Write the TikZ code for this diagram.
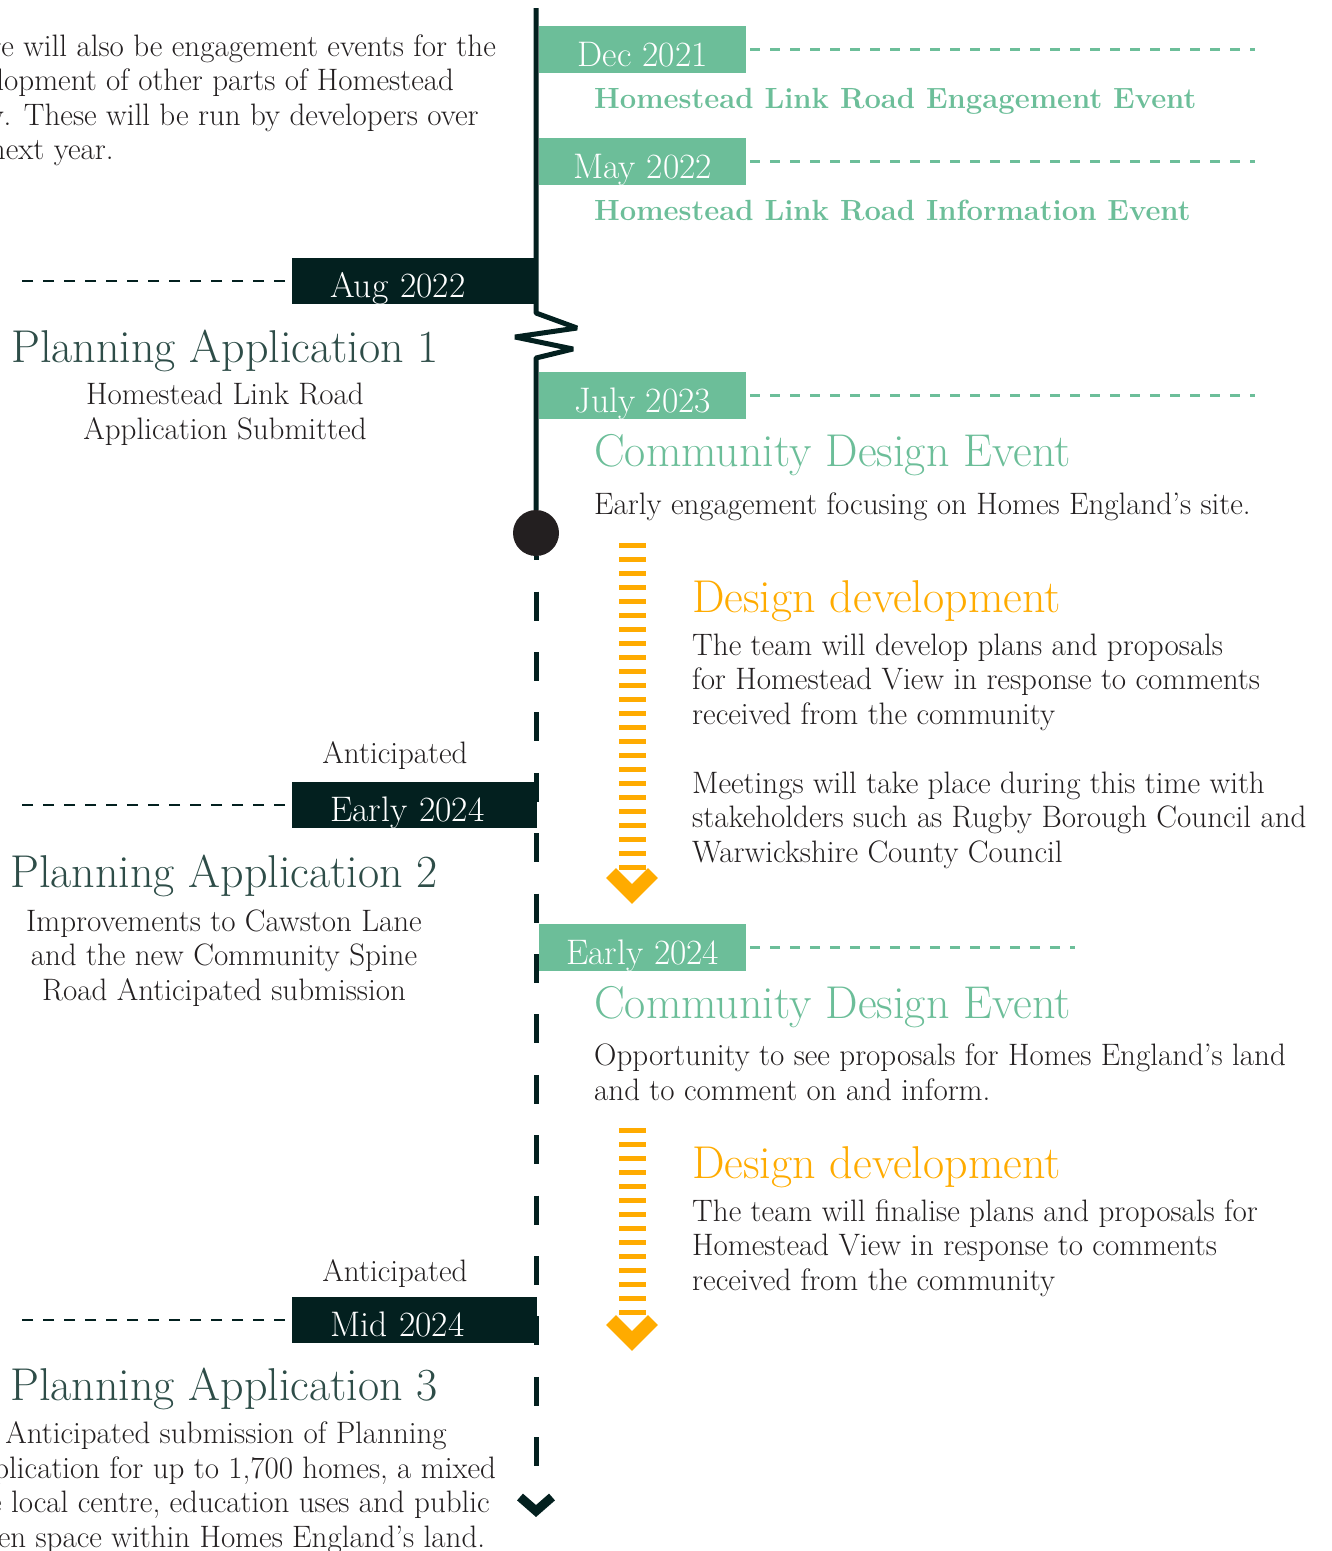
\documentclass[tikz,border=0pt]{standalone}
\usepackage{fontspec}
\usetikzlibrary{positioning}
\definecolor{pine}{HTML}{03201F}
\definecolor{mint}{HTML}{6CBE99}
\definecolor{amber}{HTML}{FFAB00}
\definecolor{slate}{HTML}{2E4D48}
\definecolor{ink}{HTML}{231F20}
\newcommand\datefont{\fontsize{35.5}{40}\selectfont}
\newcommand\bodyfont{\fontsize{31}{34.5}\selectfont}
\newcommand\headfont{\fontsize{46}{52}\selectfont}
\newcommand\leadfont{\bfseries\fontsize{29.2}{34}\selectfont}
\tikzstyle{spine}=[pine, line width=5, line join=bevel]
\tikzstyle{hub}=[circle, fill=ink, minimum size=46, inner sep=0]
\tikzstyle{mintdate}=[fill=mint, text=white, font=\datefont, minimum width=207, minimum height=47, inner sep=0, text height=33, text depth=0, anchor=north west]
\tikzstyle{pinedate}=[fill=pine, text=white, font=\datefont, inner xsep=38, inner ysep=0, text width=169, align=left, minimum height=46, text height=33, text depth=0, anchor=north west]
\tikzstyle{mintdash}=[mint, line width=2.5, dash pattern=on 10 off 10, shorten <=4]
\tikzstyle{pinedash}=[pine, line width=2.5, dash pattern=on 11 off 10, shorten <=7]
\tikzstyle{ladder}=[amber, line width=27, dash pattern=on 5 off 9]
\tikzstyle{chevron}=[amber, line width=14, miter limit=10]
\tikzstyle{body}=[ink, font=\bodyfont, inner sep=0, align=left, anchor=base west]
\tikzstyle{note}=[ink, font=\bodyfont, inner sep=0, align=center, anchor=base]
\tikzstyle{plan}=[slate, font=\headfont, inner sep=0, anchor=base]
\tikzstyle{lead}=[mint, font=\leadfont, inner sep=0, anchor=base west]
\tikzstyle{mhead}=[mint, font=\headfont, inner sep=0, anchor=base west]
\tikzstyle{yhead}=[amber, font=\headfont, inner sep=0, anchor=base west]

\begin{document}
\begin{tikzpicture}[x=1pt, y=-1pt]
  \useasboundingbox (0,0) rectangle (1332,1551);
  \coordinate (edgeL) at (20,0);
  \coordinate (edgeR) at (1255,0);
  \coordinate (edgeM) at (1075,0);

  % timeline
  \node[hub] (hub) at (536,533) {};
  \coordinate (top) at (536,8);
  \coordinate (tail) at (536,1467);
  \draw[spine] (top) -- (536,313) -- ++(41,15) -- ++(-62,9) -- ++(58,12) -- ++(-37,9) -- (hub.north);
  \draw[spine, dash pattern=on 29 off 31.4, dash phase=25] (hub.south) -- (tail);
  \draw[pine, line width=9, miter limit=10] (520,1497) -- (536,1511) -- (552,1497);

  % left column (multi-line nodes sit on their last baseline)
  \node[body] (intro) at (-59,159.5) {There will also be engagement events for the\\development of other parts of Homestead\\View. These will be run by developers over\\the next year.};

  \node[pinedate] (aug) at (292,258) {Aug 2022};
  \draw[pinedash] (aug.west) -- (aug.west -| edgeL);
  \node[plan] (pa1) at (225,362) {Planning Application 1};
  \node[note] (pa1note) at (225,439) {Homestead Link Road\\Application Submitted};

  \node[note] (ant1) at (395,763) {Anticipated};
  \node[pinedate] (early) at (292,782) {Early 2024};
  \draw[pinedash] (early.west) -- (early.west -| edgeL);
  \node[plan] (pa2) at (224,887) {Planning Application 2};
  \node[note] (pa2note) at (224,1000) {Improvements to Cawston Lane\\and the new Community Spine\\Road Anticipated submission};

  \node[note] (ant2) at (395,1281) {Anticipated};
  \node[pinedate] (mid) at (292,1297) {Mid 2024};
  \draw[pinedash] (mid.west) -- (mid.west -| edgeL);
  \node[plan] (pa3) at (224,1400) {Planning Application 3};
  \node[note] (pa3note) at (226,1547) {Anticipated submission of Planning\\Application for up to 1,700 homes, a mixed\\use local centre, education uses and public\\open space within Homes England’s land.};

  % right column
  \node[mintdate] (dec) at (539,26) {Dec 2021};
  \draw[mintdash] (dec.east) -- (dec.east -| edgeR);
  \node[lead] (decnote) at (594,108) {Homestead Link Road Engagement Event};

  \node[mintdate] (may) at (539,138) {May 2022};
  \draw[mintdash] (may.east) -- (may.east -| edgeR);
  \node[lead] (maynote) at (594,220) {Homestead Link Road Information Event};

  \node[mintdate] (jul) at (539,372) {July 2023};
  \draw[mintdash] (jul.east) -- (jul.east -| edgeR);
  \node[mhead] (cde1) at (594,466) {Community Design Event};
  \node[body] (cde1note) at (594,514) {Early engagement focusing on Homes England’s site.};

  \draw[ladder] (632,543) -- (632,870);
  \draw[chevron] (611,873) -- (632,894) -- (653,873);
  \node[yhead] (dd1) at (692,612) {Design development};
  \node[body] (dd1note) at (692,724) {The team will develop plans and proposals\\for Homestead View in response to comments\\received from the community};
  \node[body] (dd1meet) at (692,862) {Meetings will take place during this time with\\stakeholders such as Rugby Borough Council and\\Warwickshire County Council};

  \node[mintdate] (early2) at (539,924) {Early 2024};
  \draw[mintdash] (early2.east) -- (early2.east -| edgeM);
  \node[mhead] (cde2) at (594,1018) {Community Design Event};
  \node[body] (cde2note) at (594,1100) {Opportunity to see proposals for Homes England’s land\\and to comment on and inform.};

  \draw[ladder] (632,1128) -- (632,1316);
  \draw[chevron] (611,1320) -- (632,1341) -- (653,1320);
  \node[yhead] (dd2) at (692,1178) {Design development};
  \node[body] (dd2note) at (692,1290) {The team will finalise plans and proposals for\\Homestead View in response to comments\\received from the community};
\end{tikzpicture}
\end{document}
